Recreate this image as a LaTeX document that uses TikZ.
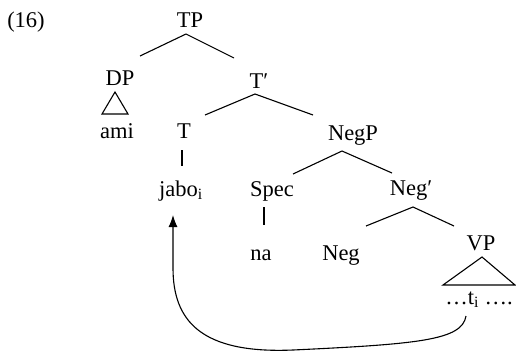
\documentclass[tikz,border=0pt]{standalone}
\usepackage{fontspec}
\setmainfont{Liberation Serif}
\usetikzlibrary{arrows.meta}
\begin{document}
\begin{tikzpicture}[x=1pt,y=-1pt,
  lbl/.style={anchor=base,inner sep=0pt,font=\fontsize{22.5}{27}\selectfont},
  edge/.style={line width=1.1pt},
  tri/.style={line width=1.1pt,line join=miter}]
\useasboundingbox (0,0) rectangle (516,354);

% example number and node labels
\node[lbl] (num)  at (26,27)  {(16)};
\node[lbl] (TP)   at (190,27) {TP};
\node[lbl] (DP)   at (120,85) {DP};
\node[lbl] (Tbar) at (259,88) {T′};
\node[lbl] (ami)  at (117,138) {ami};
\node[lbl] (T)    at (184,138) {T};
\node[lbl] (NegP) at (353,140) {NegP};
\node[lbl] (jabo) at (181,196) {jabo\textsubscript{i}};
\node[lbl] (Spec) at (272,196) {Spec};
\node[lbl] (Negb) at (411,195) {Neg′};
\node[lbl] (na)   at (261,260) {na};
\node[lbl] (Neg)  at (341,260) {Neg};
\node[lbl] (VP)   at (481,250) {VP};
\node[lbl] (ti)   at (479,304) {\ldots t\textsubscript{i} \ldots.};

% branch points and edge ends
\coordinate (TP-a)   at (186,34);
\coordinate (DP-e)   at (140,56);
\coordinate (Tbar-e) at (234,58);
\coordinate (Tbar-a) at (255,94);
\coordinate (T-e)    at (205,115);
\coordinate (NegP-e) at (313,115);
\coordinate (T-a)    at (182,150);
\coordinate (jabo-e) at (182,166);
\coordinate (NegP-a) at (342,151);
\coordinate (Spec-e) at (293,174);
\coordinate (Negb-e) at (392,173);
\coordinate (Spec-a) at (264,207);
\coordinate (na-e)   at (264,225);
\coordinate (Negb-a) at (413,207);
\coordinate (Neg-e)  at (366,226);
\coordinate (VP-e)   at (454,226);

\draw[edge] (DP-e) -- (TP-a) -- (Tbar-e);
\draw[edge] (T-e) -- (Tbar-a) -- (NegP-e);
\draw[edge] (T-a) -- (jabo-e);
\draw[edge] (Spec-e) -- (NegP-a) -- (Negb-e);
\draw[edge] (Spec-a) -- (na-e);
\draw[edge] (Neg-e) -- (Negb-a) -- (VP-e);

% roofs over DP and VP
\draw[tri] (115,92) -- (128,114) -- (102,114) -- cycle;
\draw[tri] (482,257) -- (515,285) -- (443,285) -- cycle;

% movement arrow from the trace up to jabo
\coordinate (mv-s) at (466,316);
\coordinate (mv-b) at (293,350);
\coordinate (mv-t) at (173,215);
\draw[edge,-{Latex[length=12pt,width=9pt]}]
  (mv-s) .. controls (462,340) and (420,344) .. (mv-b)
  .. controls (200,354) and (173,320) .. (173,268) -- (mv-t);
\end{tikzpicture}
\end{document}
